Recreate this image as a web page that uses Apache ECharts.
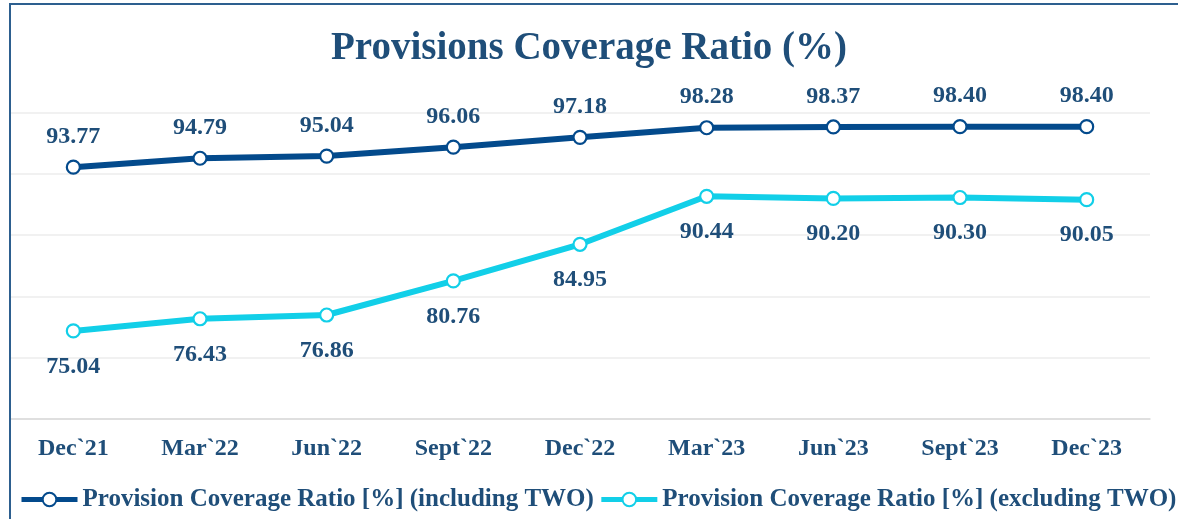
<!DOCTYPE html>
<html>
<head>
<meta charset="utf-8">
<script src="https://cdn.jsdelivr.net/npm/echarts@6/dist/echarts.min.js"></script>
<style>
  html, body { margin: 0; padding: 0; background: #ffffff; }
  #wrap { position: relative; width: 1178px; height: 519px; overflow: hidden; }
  #chart { width: 1178px; height: 519px; position: relative; }
  #frame {
    position: absolute; left: 9px; top: 3px; width: 1300px; height: 700px;
    border-left: 2px solid #2d5f8f; border-top: 2px solid #2d5f8f;
    pointer-events: none; z-index: 5;
  }
</style>
</head>
<body>
<div id="wrap">
  <div id="chart"></div>
  <div id="frame"></div>
</div>
<script>
// Quarter-end periods
const categories = ["Dec`21", "Mar`22", "Jun`22", "Sept`22", "Dec`22", "Mar`23", "Jun`23", "Sept`23", "Dec`23"];
// Provision coverage ratio including technical write-offs (%)
const pcrIncludingTWO = [93.77, 94.79, 95.04, 96.06, 97.18, 98.28, 98.37, 98.40, 98.40];
// Provision coverage ratio excluding technical write-offs (%)
const pcrExcludingTWO = [75.04, 76.43, 76.86, 80.76, 84.95, 90.44, 90.20, 90.30, 90.05];
const seriesNames = ["Provision Coverage Ratio [%] (including TWO)", "Provision Coverage Ratio [%] (excluding TWO)"];

const textBlue = '#1f4e79';
const darkBlue = '#034a8c';
const cyan = '#12cfe8';
const serif = '"Liberation Serif", "DejaVu Serif", serif';

const chart = echarts.init(document.getElementById('chart'), null, { renderer: 'canvas' });

function lineSeries(name, data, color, labelPos, labelDist) {
  return {
    name: name,
    type: 'line',
    yAxisIndex: 0,
    data: data,
    symbol: 'circle',
    symbolSize: 13,
    lineStyle: { color: color, width: 6 },
    itemStyle: { color: '#ffffff', borderColor: color, borderWidth: 2.2 },
    label: {
      show: true,
      position: labelPos,
      distance: labelDist,
      color: textBlue,
      fontFamily: serif,
      fontWeight: 'bold',
      fontSize: 24,
      formatter: p => p.value.toFixed(2)
    },
    emphasis: { disabled: true },
    z: 3
  };
}

chart.setOption({
  animation: false,
  backgroundColor: '#ffffff',
  title: {
    text: 'Provisions Coverage Ratio (%)',
    left: 'center',
    top: 24,
    textStyle: { color: textBlue, fontFamily: serif, fontWeight: 'bold', fontSize: 39 }
  },
  legend: {
    data: seriesNames,
    orient: 'horizontal',
    left: 19,
    top: 487,
    width: 1158,
    padding: 0,
    itemWidth: 56,
    itemHeight: 17,
    itemGap: 5,
    lineStyle: { width: 5 },
    textStyle: { color: textBlue, fontFamily: serif, fontWeight: 'bold', fontSize: 25 }
  },
  grid: { left: 10, right: 28, top: 112.7, bottom: 100.3, containLabel: false },
  xAxis: {
    type: 'category',
    data: categories,
    boundaryGap: true,
    axisLine: { lineStyle: { color: '#d9d9d9', width: 1.5 } },
    axisTick: { show: false },
    axisLabel: { color: textBlue, fontFamily: serif, fontWeight: 'bold', fontSize: 24, margin: 18 },
    splitLine: { show: false }
  },
  yAxis: [
    {
      type: 'value',
      min: 65,
      max: 100,
      show: false,
      splitLine: { show: false }
    },
    {
      // gridline axis: 5 equal bands over the plot height
      type: 'value',
      min: 0,
      max: 35,
      interval: 7,
      axisLine: { show: false },
      axisTick: { show: false },
      axisLabel: { show: false },
      splitLine: { show: true, lineStyle: { color: '#ececec', width: 1.5 } }
    }
  ],
  series: [
    lineSeries(seriesNames[0], pcrIncludingTWO, darkBlue, 'top', 11),
    lineSeries(seriesNames[1], pcrExcludingTWO, cyan, 'bottom', 16)
  ]
});
</script>
</body>
</html>
